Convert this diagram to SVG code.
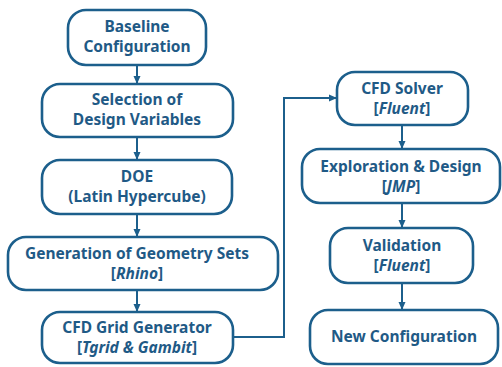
<svg xmlns="http://www.w3.org/2000/svg" width="502" height="367" viewBox="0 0 502 367">
<style>
.b{fill:#fff;stroke:#1c5f8c;stroke-width:2.6}
.t{font-family:"Noto Sans","Open Sans",sans-serif;font-weight:bold;font-size:15.5px;fill:#1f5a86;text-anchor:middle}
.i{font-style:italic}
.c{fill:none;stroke:#1c5f8c;stroke-width:2}
</style>
<defs>
<marker id="a" markerWidth="8" markerHeight="8" refX="7" refY="4" orient="auto" markerUnits="userSpaceOnUse">
<path d="M0,0.5 L8,4 L0,7.5 z" fill="#1c5f8c"/>
</marker>
</defs>
<rect width="502" height="367" fill="#fff"/>
<g id="connectors">
<line class="c" x1="137" y1="65" x2="137" y2="83" marker-end="url(#a)"/>
<line class="c" x1="137" y1="137" x2="137" y2="159" marker-end="url(#a)"/>
<line class="c" x1="137" y1="214" x2="137" y2="236" marker-end="url(#a)"/>
<line class="c" x1="137" y1="290" x2="137" y2="311" marker-end="url(#a)"/>
<polyline class="c" points="233,337 284,337 284,98 336,98" marker-end="url(#a)"/>
<line class="c" x1="402" y1="125" x2="402" y2="148" marker-end="url(#a)"/>
<line class="c" x1="402" y1="203" x2="402" y2="227" marker-end="url(#a)"/>
<line class="c" x1="402" y1="283" x2="402" y2="309" marker-end="url(#a)"/>
</g>
<g id="baseline">
<rect class="b" x="68" y="10" width="138" height="55" rx="18"/>
<text class="t" x="137" y="32">Baseline</text>
<text class="t" x="137" y="52">Configuration</text>
</g>
<g id="selection">
<rect class="b" x="42" y="84" width="191" height="53" rx="18"/>
<text class="t" x="137" y="105">Selection of</text>
<text class="t" x="137" y="125">Design Variables</text>
</g>
<g id="doe">
<rect class="b" x="42" y="160" width="190" height="54" rx="18"/>
<text class="t" x="137" y="182">DOE</text>
<text class="t" x="137" y="202">(Latin Hypercube)</text>
</g>
<g id="geometry">
<rect class="b" x="8" y="237" width="270" height="53" rx="18"/>
<text class="t" x="137" y="259">Generation of Geometry Sets</text>
<text class="t" x="137" y="279">[<tspan class="i">Rhino</tspan>]</text>
</g>
<g id="grid">
<rect class="b" x="42" y="312" width="191" height="51" rx="18"/>
<text class="t" x="137" y="333">CFD Grid Generator</text>
<text class="t" x="137" y="353">[<tspan class="i">Tgrid &amp; Gambit</tspan>]</text>
</g>
<g id="solver">
<rect class="b" x="337" y="72" width="131" height="53" rx="18"/>
<text class="t" x="402" y="94">CFD Solver</text>
<text class="t" x="402" y="114">[<tspan class="i">Fluent</tspan>]</text>
</g>
<g id="exploration">
<rect class="b" x="302" y="149" width="198" height="54" rx="18"/>
<text class="t" x="401" y="172">Exploration &amp; Design</text>
<text class="t" x="401" y="192">[<tspan class="i">JMP</tspan>]</text>
</g>
<g id="validation">
<rect class="b" x="330" y="228" width="143" height="55" rx="18"/>
<text class="t" x="402" y="251">Validation</text>
<text class="t" x="402" y="271">[<tspan class="i">Fluent</tspan>]</text>
</g>
<g id="newconfig">
<rect class="b" x="310" y="310" width="188" height="54" rx="18"/>
<text class="t" x="404" y="342">New Configuration</text>
</g>
</svg>
